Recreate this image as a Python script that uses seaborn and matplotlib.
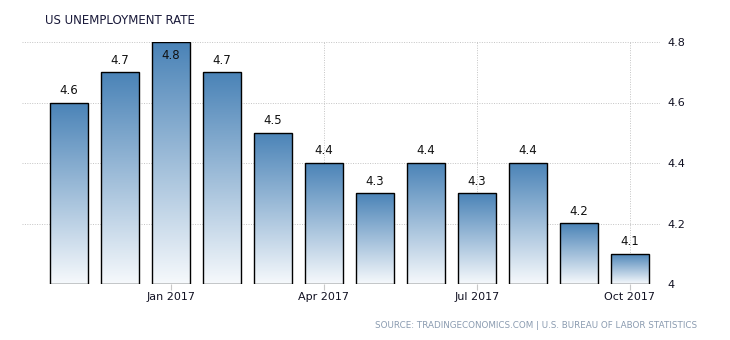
import numpy as np
import pandas as pd
import matplotlib
matplotlib.use("Agg")
import matplotlib.pyplot as plt
from matplotlib.colors import LinearSegmentedColormap
import seaborn as sns

months = ["Nov 2016", "Dec 2016", "Jan 2017", "Feb 2017", "Mar 2017", "Apr 2017",
          "May 2017", "Jun 2017", "Jul 2017", "Aug 2017", "Sep 2017", "Oct 2017"]
rates = [4.6, 4.7, 4.8, 4.7, 4.5, 4.4, 4.3, 4.4, 4.3, 4.4, 4.2, 4.1]
tick_labels = ["Jan 2017", "Apr 2017", "Jul 2017", "Oct 2017"]
y_ticks = [4.0, 4.2, 4.4, 4.6, 4.8]
y_tick_labels = ["4", "4.2", "4.4", "4.6", "4.8"]
title = "US UNEMPLOYMENT RATE"
source = "SOURCE: TRADINGECONOMICS.COM | U.S. BUREAU OF LABOR STATISTICS"

sns.set_theme(style="white")
plt.rcParams['font.family'] = ['DejaVu Sans']

df = pd.DataFrame({"month": months, "rate": rates})

fig = plt.figure(figsize=(7.3, 3.4), dpi=100)
ax = fig.add_axes([22/730, 1-284/340, (660-22)/730, (284-42)/340])

sns.barplot(data=df, x="month", y="rate", ax=ax, width=0.735,
            color="white", edgecolor="black", linewidth=1.0, saturation=1)

ymin, ymax = 4.0, 4.8

cmap = LinearSegmentedColormap.from_list("g", ["#f6f9fc", "#4a83b7"])
grad = np.linspace(0, 1, 256).reshape(-1, 1)
for p, v in zip(ax.patches, rates):
    p.set_y(ymin)
    p.set_height(v - ymin)
    p.set_facecolor("none")
    p.set_zorder(3)
    x0 = p.get_x()
    x1 = x0 + p.get_width()
    im = ax.imshow(grad, cmap=cmap, origin="lower", aspect="auto",
                   extent=[x0, x1, ymin, v], zorder=2, interpolation="bicubic")
    im.set_clip_path(p)
    cx = p.get_x() + p.get_width() / 2
    if v >= ymax - 0.01:
        ax.annotate(f"{v}", (cx, v), xytext=(0, -5), textcoords="offset points",
                    ha="center", va="top", fontsize=8.5, color="#111111", zorder=5)
    else:
        ax.annotate(f"{v}", (cx, v), xytext=(0, 4), textcoords="offset points",
                    ha="center", va="bottom", fontsize=8.5, color="#111111", zorder=5)

ax.set_xlim(-0.92, 11.59)
ax.set_ylim(ymin, ymax)

tick_pos = [months.index(t) for t in tick_labels]
ax.set_xticks(tick_pos)
ax.set_xticklabels(tick_labels, fontsize=8, color="#111122")
ax.tick_params(axis="x", length=4, width=0.8, color="#c8c8c8", pad=2, direction="out",
               bottom=True)

ax.yaxis.tick_right()
ax.set_yticks(y_ticks)
ax.set_yticklabels(y_tick_labels, fontsize=8, color="#111122")
ax.tick_params(axis="y", length=0, pad=5)

ax.set_xlabel("")
ax.set_ylabel("")
for s in ax.spines.values():
    s.set_visible(False)

ax.grid(True, axis="both", linestyle=(0, (1, 1.5)), color="#c4c4c4", linewidth=0.7)
ax.set_axisbelow(True)

fig.text(45/730, 1-20/340, title, fontsize=8.5, color="#1a1a3a", va="center", ha="left")
fig.text(697/730, 1-326/340, source, fontsize=6.3, color="#8a9bb0", va="center", ha="right")

fig.savefig("out.png", dpi=100)
